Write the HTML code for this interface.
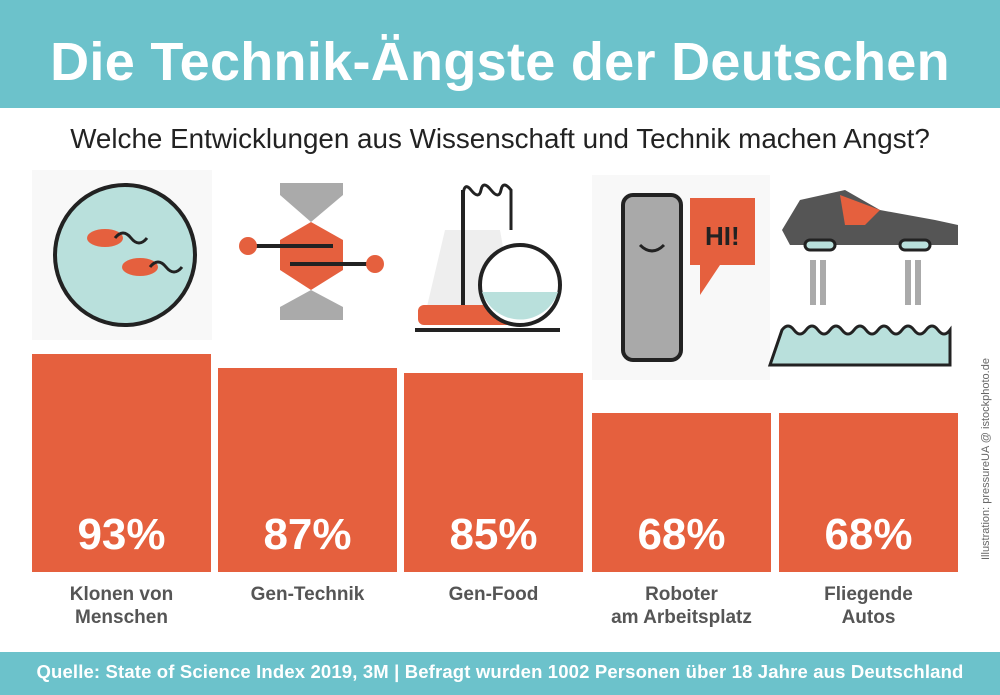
<!DOCTYPE html>
<html><head><meta charset="utf-8"><style>
*{margin:0;padding:0}
body{width:1000px;height:695px;background:#fff;position:relative;overflow:hidden;font-family:"Liberation Sans",sans-serif}
.hdr{position:absolute;left:0;top:0;width:1000px;height:108px;background:#6cc2cb}
.hdr div{position:absolute;left:0;width:1000px;top:31px;text-align:center;color:#fff;font-weight:bold;font-size:54px;letter-spacing:0.3px}
.sub{position:absolute;left:0;width:1000px;top:123px;text-align:center;color:#222;font-size:27.8px}
.bar{position:absolute;background:#e5603e;bottom:123px;width:179px}
.pct{position:absolute;width:179px;top:510px;text-align:center;color:#fff;font-weight:bold;font-size:44px}
.lab{position:absolute;width:179px;top:583px;text-align:center;color:#555;font-weight:bold;font-size:19px;line-height:23px}
.ftr{position:absolute;left:0;top:652px;width:1000px;height:43px;background:#6cc2cb;color:#fff;font-size:18.5px;text-align:center;line-height:40px;font-weight:bold;letter-spacing:0.15px}
.cred{position:absolute;left:980px;top:560px;transform:rotate(-90deg);transform-origin:0 0;font-size:11px;color:#666;white-space:nowrap}
</style></head><body>
<div class="hdr"><div>Die Technik-Ängste der Deutschen</div></div>
<div class="sub">Welche Entwicklungen aus Wissenschaft und Technik machen Angst?</div>
<svg style="position:absolute;left:0;top:0" width="1000" height="400">
<rect x="32" y="170" width="180" height="170" fill="#f8f8f8"/>
<circle cx="125" cy="255" r="70" fill="#b9e0dc" stroke="#222" stroke-width="4"/>
<ellipse cx="105" cy="238" rx="18" ry="9" fill="#e5603e"/>
<ellipse cx="140" cy="267" rx="18" ry="9" fill="#e5603e"/>
<path d="M115 238 q8 -10 16 0 t16 0" stroke="#222" stroke-width="3" fill="none"/>
<path d="M150 267 q8 -10 16 0 t16 0" stroke="#222" stroke-width="3" fill="none"/>
<polygon points="280,183 343,183 343,195 311,222 280,195" fill="#aaa"/>
<polygon points="280,320 343,320 343,307 311,290 280,307" fill="#aaa"/>
<polygon points="311,222 343,240 343,270 311,290 280,270 280,240" fill="#e5603e"/>
<line x1="250" y1="246" x2="333" y2="246" stroke="#222" stroke-width="4"/>
<line x1="290" y1="264" x2="375" y2="264" stroke="#222" stroke-width="4"/>
<circle cx="248" cy="246" r="9" fill="#e5603e"/><circle cx="375" cy="264" r="9" fill="#e5603e"/>
<polygon points="425,315 445,230 500,230 515,315" fill="#eee"/>
<rect x="418" y="305" width="95" height="20" rx="6" fill="#e5603e"/>
<line x1="415" y1="330" x2="560" y2="330" stroke="#222" stroke-width="4"/>
<line x1="463" y1="190" x2="463" y2="305" stroke="#222" stroke-width="4"/>
<path d="M463 200 q0 -20 8 -10 t10 0 t10 0 t10 0 t10 0 v40" stroke="#222" stroke-width="3" fill="none"/>
<circle cx="520" cy="285" r="40" fill="#fff" stroke="#222" stroke-width="4"/>
<path d="M482 292 h76 a40 40 0 0 1 -76 0z" fill="#b9e0dc"/>
<rect x="592" y="175" width="178" height="205" fill="#f8f8f8"/>
<rect x="623" y="195" width="58" height="165" rx="10" fill="#a9a9a9" stroke="#222" stroke-width="4"/>
<path d="M640 245 q12 12 24 0" stroke="#222" stroke-width="3" fill="none"/>
<polygon points="690,198 755,198 755,265 720,265 700,295 700,265 690,265" fill="#e5603e"/>
<text x="705" y="245" font-family="Liberation Sans" font-weight="bold" font-size="26" fill="#222">HI!</text>
<polygon points="782,230 800,200 845,190 880,210 935,220 958,225 958,245 790,245" fill="#555"/>
<polygon points="840,195 880,210 865,225 845,225" fill="#e5603e"/>
<rect x="805" y="240" width="30" height="10" rx="5" fill="#b9e0dc" stroke="#222" stroke-width="3"/>
<rect x="900" y="240" width="30" height="10" rx="5" fill="#b9e0dc" stroke="#222" stroke-width="3"/>
<path d="M782 330 q6 -8 12 0 t12 0 t12 0 t12 0 t12 0 t12 0 t12 0 t12 0 t12 0 t12 0 t12 0 t12 0 t12 0 t12 0 v35 h-180z" fill="#b9e0dc" stroke="#222" stroke-width="3"/>
<g fill="#aaa"><rect x="810" y="260" width="6" height="45"/><rect x="820" y="260" width="6" height="45"/><rect x="905" y="260" width="6" height="45"/><rect x="915" y="260" width="6" height="45"/></g>
</svg>
<div class="bar" style="left:32px;top:354px"></div>
<div class="bar" style="left:218px;top:368px"></div>
<div class="bar" style="left:404px;top:373px"></div>
<div class="bar" style="left:592px;top:413px"></div>
<div class="bar" style="left:779px;top:413px"></div>
<div class="pct" style="left:32px">93%</div>
<div class="pct" style="left:218px">87%</div>
<div class="pct" style="left:404px">85%</div>
<div class="pct" style="left:592px">68%</div>
<div class="pct" style="left:779px">68%</div>
<div class="lab" style="left:32px">Klonen von<br>Menschen</div>
<div class="lab" style="left:218px">Gen-Technik</div>
<div class="lab" style="left:404px">Gen-Food</div>
<div class="lab" style="left:592px">Roboter<br>am Arbeitsplatz</div>
<div class="lab" style="left:779px">Fliegende<br>Autos</div>
<div class="cred">Illustration: pressureUA @ istockphoto.de</div>
<div class="ftr">Quelle: State of Science Index 2019, 3M | Befragt wurden 1002 Personen über 18 Jahre aus Deutschland</div>
</body></html>
